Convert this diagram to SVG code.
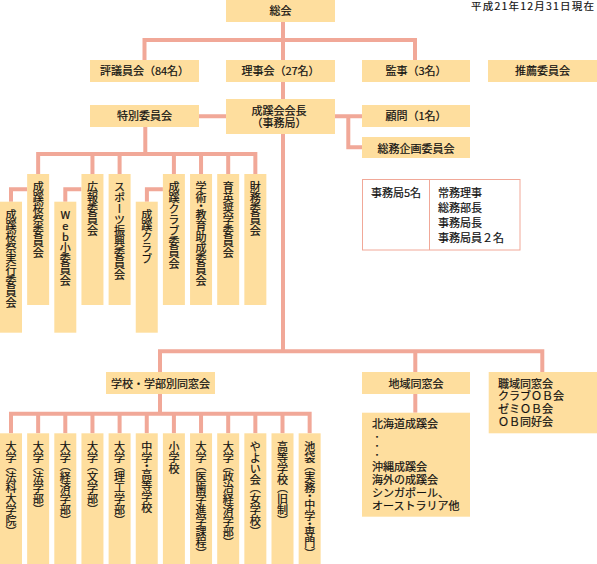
<svg xmlns="http://www.w3.org/2000/svg" width="597" height="564" viewBox="0 0 597 564">
<style>
.b{fill:#FEDE9E}
.c{fill:none;stroke:#F1A898;stroke-width:4}
.t{fill:none;stroke:#F1A898;stroke-width:1}
text{font-family:"Noto Sans CJK JP","Noto Sans",sans-serif;font-size:11px;fill:#111;stroke:#111;stroke-width:0.2}
.m{text-anchor:middle}
.v{writing-mode:vertical-rl}
.u{writing-mode:vertical-rl;text-orientation:upright}
</style>
<rect width="597" height="564" fill="#fff"/>
<text x="471" y="9.5" style="font-size:10.5px;stroke-width:0.15" textLength="123" lengthAdjust="spacing">平成21年12月31日現在</text>
<g id="connectors">
<path class="c" d="M283,22V99M144.5,60V40H415V60"/>
<path class="c" d="M199,116.3H226M335,116.3H362M348.3,116.3V147.3H362"/>
<path class="c" d="M145.3,127V154M38.15,174V154H255.35V174M92.45,154V174M119.6,154V174M173.9,154V174M201.05,154V174M228.2,154V174"/>
<path class="c" d="M27.15,189.3H11V201.7M81.45,189.3H65.3V201.7M162.9,189.3H146.9V201.7"/>
<path class="c" d="M283,134V351.3M160,372V351.3H542.3V372M415.3,351.3V372"/>
<path class="c" d="M160,394V413.7M11,433.3V413.7H309.65V433.3M38.15,413.7V433.3M65.3,413.7V433.3M92.45,413.7V433.3M119.6,413.7V433.3M146.75,413.7V433.3M173.9,413.7V433.3M201.05,413.7V433.3M228.2,413.7V433.3M255.35,413.7V433.3M282.5,413.7V433.3"/>
<path class="c" d="M415.3,394V412.7"/>
</g>
<g id="n-soukai"><rect class="b" x="226" y="0" width="109" height="22"/><text class="m" x="280.5" y="15">総会</text></g>
<g id="n-hyogi"><rect class="b" x="90" y="60" width="109" height="22"/><text class="m" x="144.5" y="75">評議員会（84名）</text></g>
<g id="n-riji"><rect class="b" x="226" y="60" width="109" height="22"/><text class="m" x="280.5" y="75">理事会（27名）</text></g>
<g id="n-kanji"><rect class="b" x="362" y="60" width="108" height="22"/><text class="m" x="416" y="75">監事（3名）</text></g>
<g id="n-suisen"><rect class="b" x="488" y="60" width="109" height="22"/><text class="m" x="542.5" y="75">推薦委員会</text></g>
<g id="n-tokubetsu"><rect class="b" x="90" y="105" width="109" height="22"/><text class="m" x="144.5" y="120">特別委員会</text></g>
<g id="n-kaicho"><rect class="b" x="226" y="99" width="109" height="35"/><text class="m" x="279" y="114.8">成蹊会会長</text><text class="m" x="279" y="127">（事務局）</text></g>
<g id="n-komon"><rect class="b" x="362" y="105" width="108" height="22"/><text class="m" x="416" y="120">顧問（1名）</text></g>
<g id="n-somu"><rect class="b" x="362" y="137" width="108" height="21"/><text class="m" x="416" y="152.5">総務企画委員会</text></g>
<g id="n-jimukyoku">
<rect class="t" x="362.5" y="179.5" width="157.5" height="70.5"/><path class="t" d="M429.5,179.5V250"/>
<text x="371" y="197">事務局5名</text>
<text x="438" y="197">常務理事</text><text x="438" y="212">総務部長</text><text x="438" y="227">事務局長</text><text x="438" y="242">事務局員２名</text>
</g>
<g id="n-c0"><rect class="b" x="0" y="201.7" width="22" height="131"/><text class="v" x="11" y="209">成蹊桜祭実行委員会</text></g>
<g id="n-c1"><rect class="b" x="27.15" y="174" width="22" height="131"/><text class="v" x="38.15" y="181.5">成蹊桜祭委員会</text></g>
<g id="n-c2"><rect class="b" x="54.3" y="201.7" width="22" height="131"/><text class="u" x="65.3" y="209">Web小委員会</text></g>
<g id="n-c3"><rect class="b" x="81.45" y="174" width="22" height="131"/><text class="v" x="92.45" y="181.5">広報委員会</text></g>
<g id="n-c4"><rect class="b" x="108.6" y="174" width="22" height="131"/><text class="v" x="119.6" y="181.5">スポーツ振興委員会</text></g>
<g id="n-c5"><rect class="b" x="135.75" y="201.7" width="22" height="131"/><text class="v" x="146.75" y="209">成蹊クラブ</text></g>
<g id="n-c6"><rect class="b" x="162.9" y="174" width="22" height="131"/><text class="v" x="173.9" y="181.5">成蹊クラブ委員会</text></g>
<g id="n-c7"><rect class="b" x="190.05" y="174" width="22" height="131"/><text class="v" x="201.05" y="181.5 192.5 200.75 209 220 231 242 253 264 275">学術・教育助成委員会</text></g>
<g id="n-c8"><rect class="b" x="217.2" y="174" width="22" height="131"/><text class="v" x="228.2" y="181.5">育英奨学委員会</text></g>
<g id="n-c9"><rect class="b" x="244.35" y="174" width="22" height="131"/><text class="v" x="255.35" y="181.5">財務委員会</text></g>
<g id="n-gakko"><rect class="b" x="106" y="372" width="109" height="22"/><text class="m" x="160.5" y="387.5">学校・学部別同窓会</text></g>
<g id="n-chiiki"><rect class="b" x="362" y="372" width="108" height="22"/><text class="m" x="416" y="387.5">地域同窓会</text></g>
<g id="n-shokuiki"><rect class="b" x="488.7" y="372" width="108.3" height="61.3"/>
<text x="498" y="387.5">職域同窓会</text><text x="498" y="400.3">クラブＯＢ会</text><text x="498" y="413">ゼミＯＢ会</text><text x="498" y="425.7">ＯＢ同好会</text></g>
<g id="n-hokkaido"><rect class="b" x="362" y="412.7" width="108" height="104"/>
<text x="372" y="427.5">北海道成蹊会</text><text x="373" y="440" style="font-size:8px">・</text><text x="373" y="449" style="font-size:8px">・</text><text x="373" y="458" style="font-size:8px">・</text>
<text x="372" y="470.5">沖縄成蹊会</text><text x="372" y="483.5">海外の成蹊会</text><text x="372" y="496.7">シンガポール、</text><text x="372" y="510">オーストラリア他</text></g>
<g id="n-b0"><rect class="b" x="0" y="433.3" width="22" height="131"/><text class="v" x="11" y="441.5 452.5 460.1 471.5 482.5 493.5 504.5 515.5 526">大学（法科大学院）</text></g>
<g id="n-b1"><rect class="b" x="27.15" y="433.3" width="22" height="131"/><text class="v" x="38.15" y="441.5 452.5 460.1 471.5 482.5 493.5 504">大学（法学部）</text></g>
<g id="n-b2"><rect class="b" x="54.3" y="433.3" width="22" height="131"/><text class="v" x="65.3" y="441.5 452.5 460.1 471.5 482.5 493.5 504.5 515">大学（経済学部）</text></g>
<g id="n-b3"><rect class="b" x="81.45" y="433.3" width="22" height="131"/><text class="v" x="92.45" y="441.5 452.5 460.1 471.5 482.5 493.5 504">大学（文学部）</text></g>
<g id="n-b4"><rect class="b" x="108.6" y="433.3" width="22" height="131"/><text class="v" x="119.6" y="441.5 452.5 460.1 471.5 482.5 493.5 504.5 515">大学（理工学部）</text></g>
<g id="n-b5"><rect class="b" x="135.75" y="433.3" width="22" height="131"/><text class="v" x="146.75" y="441.5 452.5 460.75 469 480 491 502">中学・高等学校</text></g>
<g id="n-b6"><rect class="b" x="162.9" y="433.3" width="22" height="131"/><text class="v" x="173.9" y="441.5">小学校</text></g>
<g id="n-b7"><rect class="b" x="190.05" y="433.3" width="22" height="131"/><text class="v" x="201.05" y="441.5 452.5 460.1 471.5 482.5 493.5 504.5 515.5 526.5 537.5 548">大学（医歯学進学課程）</text></g>
<g id="n-b8"><rect class="b" x="217.2" y="433.3" width="22" height="131"/><text class="v" x="228.2" y="441.5 452.5 460.1 471.5 482.5 493.5 504.5 515.5 526.5 537">大学（政治経済学部）</text></g>
<g id="n-b9"><rect class="b" x="244.35" y="433.3" width="22" height="131"/><text class="v" x="255.35" y="441.5 452.5 463.5 474.5 482.1 493.5 504.5 515.5 526">やよい会（女学校）</text></g>
<g id="n-b10"><rect class="b" x="271.5" y="433.3" width="22" height="131"/><text class="v" x="282.5" y="441.5 452.5 463.5 474.5 482.1 493.5 504.5 515">高等学校（旧制）</text></g>
<g id="n-b11"><rect class="b" x="298.65" y="433.3" width="22" height="131"/><text class="v" x="309.65" y="441.5 452.5 460.1 471.5 482.5 490.75 499 510 518.25 526.5 537.5 548">池袋（実務・中学・専門）</text></g>
</svg>
